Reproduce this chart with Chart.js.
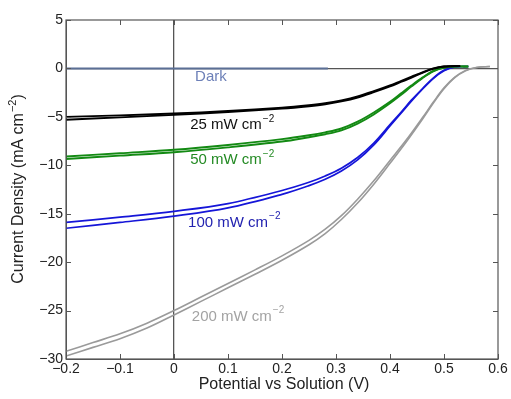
<!DOCTYPE html>
<html>
<head>
<meta charset="utf-8">
<script src="https://cdn.jsdelivr.net/npm/chart.js@4"></script>
<style>
  html, body { margin: 0; padding: 0; background: #fff; }
  #wrap { width: 511px; height: 399px; }
</style>
</head>
<body>
<div id="wrap"><canvas id="myChart" width="511" height="399"></canvas></div>
<script>
// axis ticks
const xTicks = [-0.2, -0.1, 0, 0.1, 0.2, 0.3, 0.4, 0.5, 0.6];
const yTicks = [-30, -25, -20, -15, -10, -5, 0, 5];

// dark
const darkX = [-0.2, 0.285];
const darkY = [0, 0];

// 25 mW cm-2
const blackX = [-0.2, -0.1, 0, 0.1, 0.2, 0.25, 0.28, 0.31, 0.34, 0.37, 0.4, 0.42, 0.44, 0.46, 0.48, 0.5, 0.53];
const blackA = [-5.3, -5.05, -4.8, -4.5, -4.15, -3.9, -3.7, -3.4, -3.0, -2.45, -1.85, -1.4, -0.95, -0.45, -0.05, 0.2, 0.25];
const blackB = [-5.0, -4.85, -4.65, -4.4, -4.05, -3.8, -3.6, -3.3, -2.9, -2.35, -1.75, -1.3, -0.85, -0.4, 0.0, 0.2, 0.25];

// 50 mW cm-2
const greenX = [-0.2, -0.1, 0, 0.1, 0.2, 0.25, 0.28, 0.31, 0.34, 0.37, 0.4, 0.42, 0.44, 0.46, 0.48, 0.5, 0.52, 0.545];
const greenA = [-9.35, -9.0, -8.65, -8.15, -7.55, -7.1, -6.8, -6.4, -5.7, -4.75, -3.6, -2.75, -1.85, -1.0, -0.3, 0.1, 0.2, 0.2];
const greenB = [-9.1, -8.75, -8.4, -7.9, -7.3, -6.9, -6.6, -6.2, -5.5, -4.55, -3.45, -2.6, -1.75, -0.95, -0.25, 0.1, 0.2, 0.2];

// 100 mW cm-2
const blueX = [-0.2, -0.1, 0, 0.1, 0.2, 0.25, 0.28, 0.31, 0.34, 0.37, 0.4, 0.42, 0.44, 0.46, 0.48, 0.5, 0.52, 0.545];
const blueA = [-15.9, -15.35, -14.75, -13.95, -12.6, -11.75, -11.1, -10.3, -9.2, -7.7, -5.8, -4.55, -3.25, -2.1, -1.0, -0.2, 0.15, 0.2];
const blueB = [-16.5, -15.9, -15.25, -14.4, -13.0, -12.1, -11.45, -10.6, -9.45, -7.9, -5.95, -4.65, -3.35, -2.15, -1.05, -0.25, 0.15, 0.2];

// 200 mW cm-2
const grayX = [-0.2, -0.15, -0.1, -0.05, 0, 0.05, 0.1, 0.15, 0.2, 0.25, 0.28, 0.31, 0.34, 0.37, 0.4, 0.43, 0.46, 0.48, 0.5, 0.52, 0.54, 0.56, 0.585];
const grayA = [-29.2, -28.3, -27.4, -26.3, -25.0, -23.6, -22.2, -20.8, -19.35, -17.75, -16.6, -15.2, -13.5, -11.6, -9.5, -7.4, -5.1, -3.5, -2.0, -0.9, -0.2, 0.1, 0.2];
const grayB = [-29.7, -28.8, -27.9, -26.8, -25.45, -24.05, -22.65, -21.25, -19.8, -18.2, -17.05, -15.6, -13.9, -11.95, -9.8, -7.6, -5.25, -3.6, -2.1, -0.95, -0.25, 0.1, 0.2];

// curve labels (text, anchor in data units)
const labelText = ["Dark", "25 mW cm", "50 mW cm", "100 mW cm", "200 mW cm"];
const labelSup = ["", "\u22122", "\u22122", "\u22122", "\u22122"];
const labelX = [0.039, 0.03, 0.03, 0.026, 0.033];
const labelY = [-0.9, -5.8, -9.4, -15.9, -25.6];
const labelColor = ["#6d80b8", "#111111", "#238a23", "#2222b0", "#a3a3a3"];

const FONT = "'Liberation Sans', Arial, sans-serif";

function pts(xs, ys) {
  return xs.map((x, i) => ({ x: x, y: ys[i] }));
}

function line(xs, ys, color, width) {
  return {
    data: pts(xs, ys),
    borderColor: color,
    borderWidth: width,
    pointRadius: 0,
    fill: false,
    tension: 0.35,
  };
}

function fmt(v) {
  if (Math.abs(v) < 1e-9) return "0";
  const s = Math.abs(v) < 1 ? Math.abs(v).toFixed(1) : String(Math.abs(Math.round(v)));
  return (v < 0 ? "\u2212" : "") + s;
}

// text with a small superscript, returns full width
function drawSup(ctx, base, sup, x, y, size) {
  ctx.font = size + "px " + FONT;
  ctx.fillText(base, x, y);
  const w = ctx.measureText(base).width;
  if (!sup) return w;
  ctx.font = Math.round(size * 0.68) + "px " + FONT;
  ctx.fillText(sup, x + w + 1, y - size * 0.38);
  return w + 1 + ctx.measureText(sup).width;
}

const framePlugin = {
  id: "frame",
  afterDatasetsDraw(chart) {
    const ctx = chart.ctx;
    const xs = chart.scales.x;
    const ys = chart.scales.y;
    ctx.save();
    ctx.textBaseline = "middle";
    ctx.textAlign = "left";
    for (let i = 0; i < labelText.length; i++) {
      ctx.fillStyle = labelColor[i];
      drawSup(ctx, labelText[i], labelSup[i], xs.getPixelForValue(labelX[i]), ys.getPixelForValue(labelY[i]), 15);
    }
    ctx.restore();
  },
  afterDraw(chart) {
    const ctx = chart.ctx;
    const a = chart.chartArea;
    const xs = chart.scales.x;
    const ys = chart.scales.y;
    ctx.save();
    ctx.strokeStyle = "#555";
    ctx.lineWidth = 1.2;
    ctx.strokeRect(a.left, a.top, a.right - a.left, a.bottom - a.top);
    // inward ticks on all four sides
    ctx.beginPath();
    xTicks.forEach((v) => {
      const p = Math.round(xs.getPixelForValue(v)) + 0.5;
      ctx.moveTo(p, a.bottom); ctx.lineTo(p, a.bottom - 5);
      ctx.moveTo(p, a.top); ctx.lineTo(p, a.top + 5);
    });
    yTicks.forEach((v) => {
      const p = Math.round(ys.getPixelForValue(v)) + 0.5;
      ctx.moveTo(a.left, p); ctx.lineTo(a.left + 5, p);
      ctx.moveTo(a.right, p); ctx.lineTo(a.right - 5, p);
    });
    ctx.lineWidth = 1;
    ctx.stroke();

    // axis titles
    ctx.fillStyle = "#222";
    ctx.textBaseline = "middle";
    ctx.textAlign = "center";
    ctx.font = "16px " + FONT;
    ctx.fillText("Potential vs Solution (V)", (a.left + a.right) / 2 + 2, 385);

    ctx.translate(19, 189);
    ctx.rotate(-Math.PI / 2);
    ctx.textAlign = "left";
    const base = "Current Density (mA cm";
    ctx.font = "16px " + FONT;
    const w1 = ctx.measureText(base).width;
    const w3 = ctx.measureText(")").width;
    ctx.font = "11px " + FONT;
    const w2 = ctx.measureText("\u22122").width;
    const x0 = -(w1 + 1 + w2 + w3) / 2;
    const w = drawSup(ctx, base, "\u22122", x0, 0, 16);
    ctx.font = "16px " + FONT;
    ctx.fillText(")", x0 + w, 0);
    ctx.restore();
  },
};

const zeroGrid = (c) => (c.tick && Math.abs(c.tick.value) < 1e-9 ? "#555" : "rgba(0,0,0,0)");

const ctx = document.getElementById("myChart").getContext("2d");
const chart = new Chart(ctx, {
  type: "line",
  data: {
    datasets: [
      line(darkX, darkY, "#5b6f95", 2),
      line(blackX, blackA, "#000", 1.9),
      line(blackX, blackB, "#000", 1.9),
      line(greenX, greenA, "#138a13", 1.9),
      line(greenX, greenB, "#138a13", 1.9),
      line(blueX, blueA, "#1515d8", 1.7),
      line(blueX, blueB, "#1515d8", 1.7),
      line(grayX, grayA, "#9a9a9a", 1.6),
      line(grayX, grayB, "#9a9a9a", 1.6),
    ],
  },
  options: {
    responsive: false,
    animation: false,
    layout: { padding: { top: 20, right: 13, left: 0, bottom: 0 } },
    plugins: { legend: { display: false }, tooltip: { enabled: false } },
    scales: {
      x: {
        type: "linear",
        min: -0.2,
        max: 0.6,
        afterFit: (scale) => { scale.height = 40; },
        afterBuildTicks: (scale) => { scale.ticks = xTicks.map((v) => ({ value: v })); },
        ticks: {
          padding: 2,
          color: "#222",
          font: { family: FONT, size: 14 },
          callback: (v) => fmt(v),
          maxRotation: 0,
          autoSkip: false,
        },
        grid: { drawTicks: false, color: zeroGrid, lineWidth: 1.3 },
        border: { display: true, color: "#555" },
      },
      y: {
        type: "linear",
        min: -30,
        max: 5,
        afterFit: (scale) => { scale.width = 66; },
        afterBuildTicks: (scale) => { scale.ticks = yTicks.map((v) => ({ value: v })); },
        ticks: {
          padding: 3,
          color: "#222",
          font: { family: FONT, size: 14 },
          callback: (v) => fmt(v),
          autoSkip: false,
        },
        grid: { drawTicks: false, color: zeroGrid, lineWidth: 1.3 },
        border: { display: true, color: "#555" },
      },
    },
  },
  plugins: [framePlugin],
});
</script>
</body>
</html>
